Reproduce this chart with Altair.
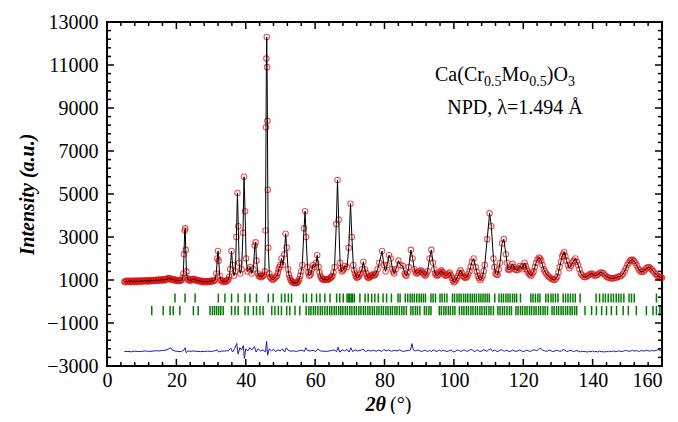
import altair as alt
import pandas as pd

# ---------------- data ----------------
# observed profile (2theta, intensity)
obs_points = [
    (5.0, 930), (5.25, 900), (5.5, 960), (5.75, 920), (6.0, 940), (6.25, 980), (6.5, 930), (6.75, 900),
    (7.0, 960), (7.25, 930), (7.5, 910), (7.75, 970), (8.0, 940), (8.25, 900), (8.5, 970), (8.75, 930),
    (9.0, 950), (9.25, 910), (9.5, 970), (9.75, 940), (10.0, 980), (10.25, 920), (10.5, 950), (10.75, 990),
    (11.0, 940), (11.25, 970), (11.5, 930), (11.75, 990), (12.0, 950), (12.25, 930), (12.5, 1000), (12.75, 960),
    (13.0, 990), (13.25, 950), (13.5, 1000), (13.75, 960), (14.0, 990), (14.25, 1010), (14.5, 960), (14.75, 1000),
    (15.0, 1020), (15.25, 970), (15.5, 1000), (15.75, 1030), (16.0, 990), (16.25, 1020), (16.5, 980), (16.75, 1030),
    (17.0, 1010), (17.25, 1060), (17.5, 1040), (17.75, 1090), (18.0, 1070), (18.25, 1030), (18.5, 1060), (18.75, 1010),
    (19.0, 1040), (19.25, 990), (19.5, 1020), (19.75, 970), (20.0, 1010), (20.25, 960), (20.5, 990), (20.75, 950),
    (21.0, 990), (21.25, 960), (21.5, 1000), (21.8, 1100), (22.0, 1300), (22.2, 2200), (22.4, 3300), (22.55, 3400),
    (22.7, 2400), (22.9, 1400), (23.1, 1100), (23.35, 1000), (23.6, 1030), (23.85, 970), (24.1, 1010), (24.35, 980),
    (24.6, 1030), (24.85, 1060), (25.1, 1020), (25.35, 1050), (25.6, 990), (25.85, 960), (26.1, 1000), (26.35, 950),
    (26.6, 980), (26.85, 930), (27.1, 960), (27.35, 910), (27.6, 950), (27.85, 900), (28.1, 940), (28.35, 910),
    (28.6, 950), (28.85, 900), (29.1, 940), (29.35, 910), (29.6, 950), (29.85, 920), (30.1, 960), (30.35, 930),
    (30.6, 970), (30.85, 950), (31.1, 1000), (31.5, 1300), (31.8, 2000), (32.0, 2350), (32.2, 1900), (32.5, 1200),
    (32.75, 1000), (33.0, 980), (33.25, 930), (33.5, 960), (33.75, 910), (34.0, 950), (34.25, 920), (34.5, 960),
    (34.75, 990), (35.0, 1020), (35.25, 1150), (35.5, 1500), (35.9, 2350), (36.2, 1700), (36.6, 1200), (37.0, 1400),
    (37.3, 3000), (37.6, 5050), (37.85, 3500), (38.1, 1800), (38.4, 1300), (38.8, 1500), (39.2, 3200), (39.5, 5800),
    (39.8, 4200), (40.1, 2000), (40.5, 1400), (41.0, 1500), (41.3, 1600), (41.7, 1300), (42.2, 1500), (42.6, 2600),
    (42.85, 2750), (43.1, 1900), (43.5, 1300), (43.75, 1200), (44.0, 1150), (44.25, 1200), (44.5, 1130), (44.75, 1180),
    (45.0, 1200), (45.25, 1250), (45.5, 1400), (45.7, 3300), (45.85, 8100), (45.95, 11300), (46.05, 12300),
    (46.15, 10900), (46.25, 8400), (46.35, 5200), (46.5, 2500), (46.8, 1300), (47.0, 1150), (47.2, 1100),
    (47.5, 1050), (47.8, 1000), (48.1, 1060), (48.5, 1100), (48.75, 1150), (49.0, 1200), (49.25, 1330), (49.5, 1500),
    (49.75, 1600), (50.0, 1700), (50.3, 2000), (50.7, 1700), (51.1, 2200), (51.5, 3150), (51.8, 2500), (52.2, 1500),
    (52.45, 1250), (52.7, 1100), (52.95, 1000), (53.2, 950), (53.45, 900), (53.7, 880), (53.95, 860), (54.2, 850),
    (54.45, 880), (54.7, 860), (54.95, 900), (55.2, 950), (55.45, 1050), (55.7, 1200), (56.0, 1400), (56.3, 1700),
    (56.8, 3400), (57.1, 4200), (57.4, 3000), (57.8, 1600), (58.05, 1350), (58.3, 1200), (58.55, 1230), (58.8, 1300),
    (59.1, 1500), (59.4, 1700), (59.8, 1600), (60.3, 1800), (60.6, 2150), (61.0, 1600), (61.25, 1350), (61.5, 1200),
    (61.75, 1100), (62.0, 1050), (62.25, 1020), (62.5, 1000), (62.75, 1040), (63.0, 1050), (63.25, 1010), (63.5, 1000),
    (63.75, 1030), (64.0, 1050), (64.25, 1080), (64.5, 1100), (64.75, 1150), (65.0, 1200), (65.3, 1350), (65.6, 1600),
    (66.1, 3600), (66.45, 5650), (66.8, 3800), (67.2, 1800), (67.45, 1550), (67.7, 1400), (68.0, 1450), (68.2, 1500),
    (68.6, 1650), (69.2, 1600), (69.7, 2500), (70.2, 4550), (70.6, 3000), (71.0, 1700), (71.25, 1450), (71.5, 1300),
    (71.75, 1180), (72.0, 1100), (72.25, 1130), (72.5, 1150), (72.75, 1220), (73.0, 1300), (73.5, 1500), (73.9, 1850),
    (74.4, 1500), (74.65, 1330), (74.9, 1200), (75.15, 1130), (75.4, 1100), (75.65, 1120), (75.9, 1150), (76.15, 1200),
    (76.4, 1250), (76.7, 1230), (77.0, 1200), (77.25, 1250), (77.5, 1300), (78.0, 1500), (78.5, 1800), (79.3, 2350),
    (79.8, 1700), (80.3, 1400), (80.8, 1700), (81.3, 2150), (81.8, 2000), (82.3, 1500), (82.55, 1380), (82.8, 1300),
    (83.3, 1500), (84.0, 1900), (84.6, 1700), (85.3, 1650), (85.8, 1300), (86.05, 1230), (86.3, 1200), (86.65, 1350),
    (87.0, 1600), (87.6, 2400), (88.1, 2000), (88.6, 1500), (88.9, 1380), (89.2, 1300), (89.5, 1320), (89.8, 1350),
    (90.15, 1400), (90.5, 1450), (90.85, 1380), (91.2, 1300), (91.5, 1250), (91.8, 1200), (92.1, 1280), (92.4, 1400),
    (93.0, 2000), (93.5, 2400), (94.0, 1800), (94.3, 1500), (94.6, 1300), (94.9, 1230), (95.2, 1200), (95.5, 1250),
    (95.8, 1300), (96.1, 1380), (96.4, 1450), (96.7, 1380), (97.0, 1300), (97.3, 1240), (97.6, 1200), (97.9, 1220),
    (98.2, 1250), (98.5, 1300), (98.8, 1350), (99.1, 1230), (99.4, 1100), (99.7, 980), (100.0, 900), (100.3, 940),
    (100.6, 1000), (100.9, 1100), (101.2, 1200), (101.55, 1330), (101.9, 1450), (102.25, 1330), (102.6, 1200),
    (102.9, 1150), (103.2, 1100), (103.5, 1120), (103.8, 1150), (104.15, 1270), (104.5, 1400), (104.85, 1620),
    (105.2, 1850), (105.7, 2000), (106.3, 1600), (106.6, 1380), (106.9, 1200), (107.25, 1080), (107.6, 1000),
    (107.95, 1080), (108.3, 1200), (108.6, 1420), (108.9, 1700), (109.6, 2900), (110.3, 4100), (110.8, 3500),
    (111.4, 2000), (111.7, 1600), (112.0, 1300), (112.3, 1260), (112.6, 1250), (112.95, 1500), (113.3, 1800),
    (113.9, 2700), (114.4, 2900), (115.0, 2200), (115.3, 1800), (115.6, 1500), (115.9, 1470), (116.2, 1500),
    (116.55, 1620), (116.9, 1750), (117.25, 1620), (117.6, 1500), (117.95, 1470), (118.3, 1450), (118.65, 1550),
    (119.0, 1650), (119.35, 1580), (119.7, 1500), (120.05, 1650), (120.4, 1800), (120.7, 1650), (121.0, 1500),
    (121.3, 1400), (121.6, 1300), (121.95, 1250), (122.3, 1200), (122.65, 1300), (123.0, 1400), (123.35, 1600),
    (123.7, 1800), (124.1, 1950), (124.5, 2050), (124.85, 2000), (125.2, 1900), (125.55, 1700), (125.9, 1500),
    (126.25, 1400), (126.6, 1300), (127.0, 1220), (127.4, 1150), (127.8, 1100), (128.2, 1050), (128.6, 1020),
    (129.0, 1000), (129.4, 1060), (129.8, 1150), (130.15, 1350), (130.5, 1600), (130.85, 1850), (131.2, 2100),
    (131.5, 2200), (131.8, 2300), (132.15, 2100), (132.5, 1900), (132.9, 1700), (133.3, 1550), (133.75, 1650),
    (134.2, 1800), (134.6, 1900), (135.0, 2000), (135.4, 1850), (135.8, 1700), (136.2, 1500), (136.6, 1300),
    (137.0, 1220), (137.4, 1150), (137.8, 1130), (138.2, 1150), (138.6, 1200), (139.0, 1250), (139.4, 1280),
    (139.8, 1300), (140.2, 1250), (140.6, 1200), (141.0, 1220), (141.4, 1250), (141.85, 1300), (142.3, 1350),
    (142.75, 1330), (143.2, 1300), (143.6, 1220), (144.0, 1150), (144.4, 1120), (144.8, 1100), (145.2, 1080),
    (145.6, 1070), (146.05, 1080), (146.5, 1100), (146.95, 1120), (147.4, 1150), (147.85, 1170), (148.3, 1200),
    (148.75, 1280), (149.2, 1400), (149.6, 1550), (150.0, 1700), (150.4, 1800), (150.8, 1900), (151.15, 1930),
    (151.5, 1950), (151.9, 1880), (152.3, 1800), (152.7, 1680), (153.1, 1550), (153.5, 1450), (153.9, 1380),
    (154.3, 1380), (154.7, 1400), (155.1, 1480), (155.5, 1550), (155.85, 1580), (156.2, 1600), (156.6, 1560),
    (157.0, 1500), (157.4, 1420), (157.8, 1350), (158.2, 1270), (158.6, 1200), (158.95, 1170), (159.3, 1150),
    (159.65, 1120), (160.0, 1100),
]

# difference curve (2theta, obs-calc shifted)
diff_points = [
    (5, -2330), (6, -2320), (7, -2340), (8, -2310), (9, -2330), (10, -2320), (11, -2300), (12, -2320),
    (13, -2310), (14, -2290), (15, -2300), (16, -2280), (17, -2260), (17.8, -2200), (18.3, -2150), (18.8, -2260),
    (19.5, -2300), (20.5, -2320), (21.5, -2330), (22.2, -2250), (22.5, -2150), (22.8, -2380), (23.3, -2300),
    (24, -2320), (25, -2300), (26, -2320), (27, -2330), (28, -2320), (29, -2310), (30, -2320), (31, -2300),
    (31.8, -2250), (32.2, -2350), (33, -2310), (34, -2300), (35, -2290), (35.7, -2180), (36.2, -2350),
    (36.8, -2200), (37.4, -1950), (37.8, -2450), (38.3, -2150), (38.8, -2250), (39.3, -2050), (39.6, -2650),
    (40.0, -2200), (40.6, -2300), (41.2, -2150), (41.8, -2250), (42.5, -2100), (43, -2350), (43.6, -2200),
    (44.3, -2300), (45, -2250), (45.7, -2350), (46.0, -1850), (46.3, -2500), (46.8, -2200), (47.4, -2300),
    (48, -2220), (48.6, -2330), (49.3, -2250), (50, -2300), (50.6, -2200), (51.2, -2350), (51.7, -2150),
    (52.3, -2280), (53, -2310), (53.8, -2300), (54.6, -2320), (55.4, -2290), (56.2, -2260), (56.9, -2330),
    (57.3, -2150), (57.8, -2280), (58.6, -2300), (59.4, -2270), (60.2, -2320), (60.8, -2200), (61.5, -2300),
    (62.3, -2310), (63.2, -2320), (64, -2300), (64.8, -2280), (65.5, -2250), (66.2, -2330), (66.6, -2130),
    (67.1, -2360), (67.8, -2250), (68.5, -2300), (69.2, -2230), (69.8, -2350), (70.3, -2150), (70.8, -2330),
    (71.5, -2250), (72.2, -2300), (73, -2280), (73.8, -2220), (74.5, -2330), (75.3, -2270), (76, -2300),
    (76.8, -2280), (77.6, -2310), (78.4, -2260), (79.2, -2330), (79.8, -2230), (80.5, -2300), (81.2, -2250),
    (82, -2320), (82.8, -2270), (83.6, -2300), (84.4, -2250), (85.2, -2320), (86, -2300), (86.8, -2280),
    (87.5, -2250), (87.9, -1960), (88.3, -2250), (89, -2300), (89.5, -2260), (90, -2280), (90.5, -2320),
    (91, -2310), (91.5, -2270), (92, -2290), (92.5, -2330), (93, -2270), (93.6, -2330), (94, -2250),
    (94.4, -2280), (94.9, -2320), (95.4, -2300), (95.9, -2260), (96.4, -2320), (96.9, -2270), (97.4, -2290),
    (97.9, -2330), (98.4, -2310), (98.9, -2260), (99.4, -2280), (99.9, -2340), (100.4, -2320), (100.9, -2260),
    (101.4, -2270), (101.9, -2320), (102.4, -2300), (102.9, -2250), (103.4, -2290), (103.9, -2320),
    (104.4, -2280), (104.9, -2230), (105.4, -2250), (105.8, -2330), (106.2, -2310), (106.6, -2260), (107, -2280),
    (107.5, -2330), (108, -2300), (108.5, -2250), (109, -2270), (109.5, -2320), (110, -2250), (110.6, -2200),
    (111.2, -2320), (111.6, -2260), (112, -2280), (112.5, -2330), (113, -2300), (113.5, -2250), (114, -2260),
    (114.6, -2320), (115, -2260), (115.4, -2280), (115.9, -2330), (116.4, -2310), (116.9, -2260), (117.4, -2290),
    (117.9, -2320), (118.4, -2300), (118.9, -2260), (119.4, -2280), (119.9, -2330), (120.4, -2310),
    (120.9, -2270), (121.4, -2290), (121.9, -2320), (122.4, -2300), (122.9, -2250), (123.4, -2260),
    (123.9, -2290), (124.4, -2230), (124.8, -2180), (125.2, -2200), (125.6, -2270), (126, -2280), (126.5, -2320),
    (127, -2300), (127.5, -2260), (128, -2290), (128.5, -2330), (129, -2310), (129.5, -2270), (130, -2280),
    (130.5, -2320), (131, -2300), (131.5, -2240), (132, -2260), (132.5, -2330), (133, -2310), (133.5, -2270),
    (134, -2290), (134.5, -2330), (135, -2300), (135.5, -2280), (136, -2320), (136.5, -2340), (137, -2310),
    (137.5, -2330), (138, -2330), (138.5, -2350), (139, -2320), (139.5, -2340), (140, -2300), (140.5, -2340),
    (141, -2320), (141.5, -2350), (142, -2310), (142.5, -2340), (143, -2330), (143.5, -2350), (144, -2320),
    (144.5, -2340), (145, -2310), (145.5, -2330), (146, -2300), (146.5, -2330), (147, -2320), (147.5, -2300),
    (148, -2310), (148.5, -2330), (149, -2300), (149.5, -2280), (150, -2290), (150.5, -2320), (151, -2300),
    (151.5, -2270), (152, -2310), (152.5, -2290), (153, -2300), (153.5, -2320), (154, -2280), (154.5, -2300),
    (155, -2300), (155.5, -2270), (156, -2290), (156.5, -2310), (157, -2270), (157.5, -2300), (158, -2290),
    (158.5, -2260), (159, -2240), (159.5, -2280), (160, -2260),
]

# Bragg reflection positions, two phases
bragg_upper = [
    19.6, 22.5, 25.4, 32.1, 34.0, 35.9, 37.8, 39.8, 41.2, 43.1, 46.5, 47.9, 50.3, 51.3, 52.3, 53.2, 56.6, 57.5,
    59.0, 60.4, 61.4, 62.8, 64.3, 66.2, 67.1, 68.1, 69.2, 69.6, 70.0, 70.4, 70.8, 71.3, 72.9, 74.4, 75.3, 76.3,
    77.2, 78.2, 79.6, 80.6, 82.0, 83.9, 84.5, 86.0, 86.7, 87.4, 88.0, 88.6, 89.3, 90.0, 90.6, 91.2, 91.8, 93.4,
    94.0, 94.7, 96.0, 96.6, 97.3, 98.0, 99.6, 100.2, 100.9, 101.5, 102.1, 102.8, 103.4, 104.0, 104.7, 105.3,
    105.9, 106.5, 107.2, 107.8, 108.4, 109.0, 109.6, 110.2, 111.8, 113.0, 113.7, 114.3, 115.0, 115.6, 116.2,
    116.9, 117.5, 118.1, 119.2, 122.2, 122.8, 123.5, 124.2, 124.8, 126.5, 127.2, 128.0, 128.6, 129.3, 130.0,
    131.5, 132.2, 132.9, 133.6, 134.3, 135.0, 136.4, 141.0, 142.0, 143.0, 143.7, 144.5, 145.3, 146.0, 146.8,
    147.5, 148.2, 149.0, 150.5, 151.2, 152.0, 158.4,
]
bragg_lower = [
    12.9, 16.2, 18.2, 19.1, 21.0, 24.9, 26.3, 29.7, 30.4, 31.0, 31.6, 32.2, 32.8, 33.5, 35.9, 36.9, 37.8, 39.8,
    40.7, 42.2, 43.1, 44.1, 45.0, 47.5, 48.4, 49.4, 50.3, 51.8, 52.7, 54.2, 55.6, 57.4, 58.2, 58.8, 59.5, 60.1,
    60.8, 61.5, 62.1, 62.8, 63.5, 64.2, 64.8, 65.5, 66.1, 66.8, 67.4, 68.0, 68.7, 69.3, 70.0, 70.6, 71.3, 71.9,
    72.6, 73.2, 73.9, 74.5, 75.2, 75.8, 76.5, 77.1, 77.8, 78.4, 79.1, 79.7, 80.4, 81.0, 81.7, 82.3, 83.0, 83.6,
    84.3, 85.0, 85.6, 86.3, 87.6, 88.2, 88.9, 89.5, 90.2, 91.5, 92.1, 92.8, 93.4, 95.8, 96.4, 97.1, 97.7, 98.4,
    99.0, 99.7, 100.3, 101.6, 102.3, 102.9, 103.6, 104.2, 104.9, 105.5, 106.2, 106.8, 107.5, 108.1, 108.8,
    109.4, 110.1, 110.7, 111.4, 112.7, 113.3, 114.0, 114.6, 115.3, 116.0, 116.6, 117.9, 118.5, 119.2, 119.8,
    120.5, 121.1, 121.8, 122.4, 123.1, 123.7, 124.4, 125.0, 125.7, 126.3, 127.0, 128.3, 128.9, 129.6, 130.2,
    130.9, 131.5, 132.2, 132.8, 133.5, 134.1, 134.8, 135.4, 137.8, 139.7, 141.1, 142.6, 144.0, 145.4, 146.9,
    148.8, 150.3, 152.6, 155.5, 157.4, 158.4, 159.4,
]
# vertical extent of each Bragg row (intensity units)
upper_row = (370, -50)
lower_row = (-210, -640)

x_major = [0, 20, 40, 60, 80, 100, 120, 140, 160]
x_minor = [v for v in range(0, 161, 4) if v % 20 != 0]
y_major = [-3000, -1000, 1000, 3000, 5000, 7000, 9000, 11000, 13000]
y_minor = [v for v in range(-3000, 13001, 400) if (v + 3000) % 2000 != 0]

# ---------------- chart ----------------
W, H = 555, 344
FONT = "Liberation Serif"
xs = alt.Scale(domain=[0, 160], nice=False, zero=False)
ys = alt.Scale(domain=[-3000, 13000], nice=False, zero=False)

df_obs = pd.DataFrame(obs_points, columns=["tt", "I"])
df_diff = pd.DataFrame(diff_points, columns=["tt", "I"])
df_b = pd.concat([
    pd.DataFrame({"tt": bragg_upper, "hi": upper_row[0], "lo": upper_row[1]}),
    pd.DataFrame({"tt": bragg_lower, "hi": lower_row[0], "lo": lower_row[1]}),
])

X_AXIS = alt.Axis(values=x_major, ticks=False, domain=False, grid=False, labelFont=FONT,
                  labelFontSize=20, labelColor="black", labelPadding=4, labelFlush=False,
                  labelAlign=alt.expr("datum.value == 160 ? 'right' : 'center'"),
                  title="", format="d")
Y_AXIS = alt.Axis(values=y_major, ticks=False, domain=False, grid=False, labelFont=FONT,
                  labelFontSize=20, labelColor="black", labelPadding=9, labelFlush=False, format="d",
                  title="Intensity (a.u.)", titleFont=FONT, titleFontSize=20, titleFontStyle="italic",
                  titleFontWeight="bold", titleColor="black", titlePadding=9)


def X(field):
    return alt.X(field, scale=xs, axis=X_AXIS)


def Y(field):
    return alt.Y(field, scale=ys, axis=Y_AXIS)


circles = alt.Chart(df_obs).mark_point(shape="circle", filled=False, color="#e41010",
                                       size=30, strokeWidth=1.1).encode(x=X("tt:Q"), y=Y("I:Q"))
calc = alt.Chart(df_obs).mark_line(color="black", strokeWidth=1).encode(x=X("tt:Q"), y=Y("I:Q"))
diff = alt.Chart(df_diff).mark_line(color="#1c1cb0", strokeWidth=1).encode(x=X("tt:Q"), y=Y("I:Q"))
bragg = alt.Chart(df_b).mark_rule(color="#067a06", strokeWidth=1.5).encode(
    x=X("tt:Q"), y=Y("hi:Q"), y2="lo:Q")


def xticks(vals, length):
    d = pd.DataFrame({"v": vals})
    bot = alt.Chart(d).mark_rule(color="black", strokeWidth=1.5).encode(
        x=X("v:Q"), y=alt.value(H), y2=alt.value(H - length))
    top = alt.Chart(d).mark_rule(color="black", strokeWidth=1.5).encode(
        x=X("v:Q"), y=alt.value(0), y2=alt.value(length))
    return [bot, top]


def yticks(vals, length):
    d = pd.DataFrame({"v": vals})
    left = alt.Chart(d).mark_rule(color="black", strokeWidth=1.5).encode(
        y=Y("v:Q"), x=alt.value(0), x2=alt.value(length))
    right = alt.Chart(d).mark_rule(color="black", strokeWidth=1.5).encode(
        y=Y("v:Q"), x=alt.value(W), x2=alt.value(W - length))
    return [left, right]


def label(text, x, y, size=20, align="left", style="normal", weight="normal"):
    return alt.Chart(pd.DataFrame({"t": [text]})).mark_text(
        font=FONT, fontSize=size, align=align, baseline="alphabetic", color="black",
        fontStyle=style, fontWeight=weight).encode(text="t:N", x=alt.value(x), y=alt.value(y))


# formula annotation (plot-relative pixel positions)
ann = [
    label("Ca(Cr", 328, 59, 20),
    label("0.5", 377, 64, 14),
    label("Mo", 394.5, 59, 20),
    label("0.5", 422.3, 64, 14),
    label(")O", 439.8, 59, 20),
    label("3", 461, 64, 14),
    label("NPD, \u03bb=1.494 \u00c5", 408, 92, 20, align="center"),
    label("2\u03b8", 279, 389, 20, align="right", style="italic", weight="bold"),
    label("(\u00b0)", 283, 389, 20),
]

layers = [bragg, diff, circles, calc] + xticks(x_major, 7) + xticks(x_minor, 4) \
    + yticks(y_major, 7) + yticks(y_minor, 4) + ann

chart = alt.layer(*layers).properties(
    width=W, height=H,
    autosize=alt.AutoSizeParams(type="none"),
    padding={"left": 99, "top": 14, "right": 8, "bottom": 48},
).configure_view(stroke="black", strokeWidth=2)

chart.save("out.html", embed_options={"renderer": "svg", "actions": False})
